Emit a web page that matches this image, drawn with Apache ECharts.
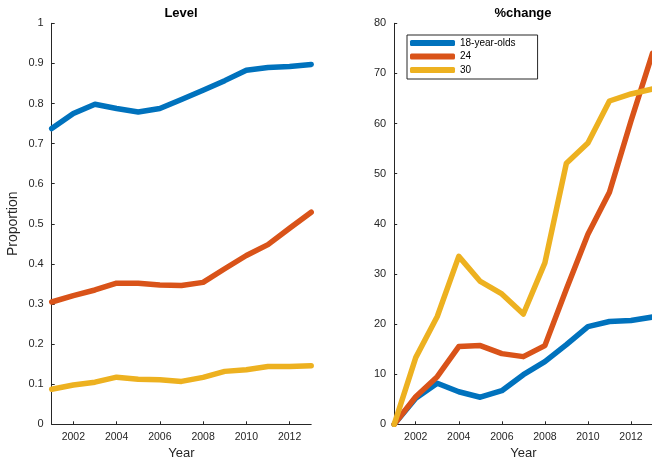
<!DOCTYPE html>
<html>
<head>
<meta charset="utf-8">
<script src="https://cdn.jsdelivr.net/npm/echarts@6/dist/echarts.min.js"></script>
<style>
  html, body { margin: 0; padding: 0; background: #fff; }
  #chart { width: 652px; height: 459px; }
</style>
</head>
<body>
<div id="chart"></div>
<script>
// Years on the horizontal axis
const years = ['2001','2002','2003','2004','2005','2006','2007','2008','2009','2010','2011','2012','2013'];

// Proportion at each age
const level18 = [0.7375, 0.775, 0.798, 0.7875, 0.779, 0.7875, 0.81, 0.833, 0.857, 0.883, 0.89, 0.892, 0.8975];
const level24 = [0.305, 0.321, 0.335, 0.352, 0.352, 0.3475, 0.346, 0.354, 0.388, 0.421, 0.448, 0.489, 0.529];
const level30 = [0.0875, 0.098, 0.105, 0.1175, 0.1125, 0.111, 0.107, 0.117, 0.132, 0.136, 0.144, 0.144, 0.146];

// Percent change since 2001
const pct18 = [0, 5.2, 8.2, 6.5, 5.4, 6.7, 9.9, 12.5, 15.9, 19.5, 20.5, 20.7, 21.4];
const pct24 = [0, 5.5, 9.5, 15.5, 15.7, 14.1, 13.5, 15.7, 27, 37.9, 46.3, 60.5, 74];
const pct30 = [0, 13.3, 21.5, 33.5, 28.5, 26, 22, 32.2, 52.1, 56.1, 64.5, 65.9, 66.9];

const seriesNames = ['18-year-olds', '24', '30'];
const colors = ['#0072BD', '#D95319', '#EDB120'];

const FONT = '"Liberation Sans", Arial, Helvetica, sans-serif';
const AXIS_COLOR = '#262626';

function xAxisCfg(gridIndex) {
  return {
    type: 'category',
    gridIndex: gridIndex,
    data: years,
    boundaryGap: false,
    name: 'Year',
    nameLocation: 'middle',
    nameGap: 21,
    nameTextStyle: { fontFamily: FONT, fontSize: 13, color: AXIS_COLOR },
    axisLine: { lineStyle: { color: AXIS_COLOR, width: 1 } },
    axisTick: {
      inside: true, length: 3,
      interval: (i, v) => Number(v) % 2 === 0,
      lineStyle: { color: AXIS_COLOR }
    },
    axisLabel: {
      interval: (i, v) => Number(v) % 2 === 0,
      fontFamily: FONT, fontSize: 10.5, color: AXIS_COLOR, margin: 7
    },
    splitLine: { show: false }
  };
}

function yAxisCfg(gridIndex, max, interval, name) {
  return {
    type: 'value',
    gridIndex: gridIndex,
    min: 0, max: max, interval: interval,
    name: name,
    nameLocation: 'middle',
    nameGap: 32,
    nameTextStyle: { fontFamily: FONT, fontSize: 14, color: AXIS_COLOR },
    axisLine: { show: true, lineStyle: { color: AXIS_COLOR, width: 1 } },
    axisTick: { show: true, inside: true, length: 3, lineStyle: { color: AXIS_COLOR } },
    axisLabel: { fontFamily: FONT, fontSize: 11, color: AXIS_COLOR, margin: 8 },
    splitLine: { show: false }
  };
}

function lineSeries(name, data, color, idx) {
  return {
    type: 'line',
    name: name,
    xAxisIndex: idx, yAxisIndex: idx,
    data: data,
    showSymbol: false,
    symbol: 'none',
    lineStyle: { color: color, width: 5.5, cap: 'round', join: 'round' },
    itemStyle: { color: color },
    animation: false
  };
}

const chart = echarts.init(document.getElementById('chart'), null, { renderer: 'canvas' });

chart.setOption({
  backgroundColor: '#fff',
  animation: false,
  title: [
    { text: 'Level', left: 181, top: 7, textAlign: 'center', padding: 0,
      textStyle: { fontFamily: FONT, fontSize: 13, fontWeight: 'bold', color: '#000' } },
    { text: '%change', left: 523, top: 7, textAlign: 'center', padding: 0,
      textStyle: { fontFamily: FONT, fontSize: 13, fontWeight: 'bold', color: '#000' } }
  ],
  grid: [
    { left: 51.7, top: 23.3, width: 259.5, height: 401, outerBoundsMode: 'none', containLabel: false },
    { left: 394.2, top: 23.3, width: 258.3, height: 401, outerBoundsMode: 'none', containLabel: false }
  ],
  xAxis: [xAxisCfg(0), xAxisCfg(1)],
  yAxis: [yAxisCfg(0, 1, 0.1, 'Proportion'), yAxisCfg(1, 80, 10, '')],
  legend: {
    data: seriesNames,
    orient: 'vertical',
    left: 407, top: 35,
    padding: [3, 22, 4, 3],
    itemGap: 3.5,
    itemWidth: 45, itemHeight: 6,
    icon: 'roundRect',
    borderColor: AXIS_COLOR, borderWidth: 1,
    backgroundColor: '#fff',
    selectedMode: false,
    textStyle: { fontFamily: FONT, fontSize: 10, color: '#000', lineHeight: 10 }
  },
  series: [
    lineSeries(seriesNames[0], level18, colors[0], 0),
    lineSeries(seriesNames[1], level24, colors[1], 0),
    lineSeries(seriesNames[2], level30, colors[2], 0),
    lineSeries(seriesNames[0], pct18, colors[0], 1),
    lineSeries(seriesNames[1], pct24, colors[1], 1),
    lineSeries(seriesNames[2], pct30, colors[2], 1)
  ]
});
</script>
</body>
</html>
